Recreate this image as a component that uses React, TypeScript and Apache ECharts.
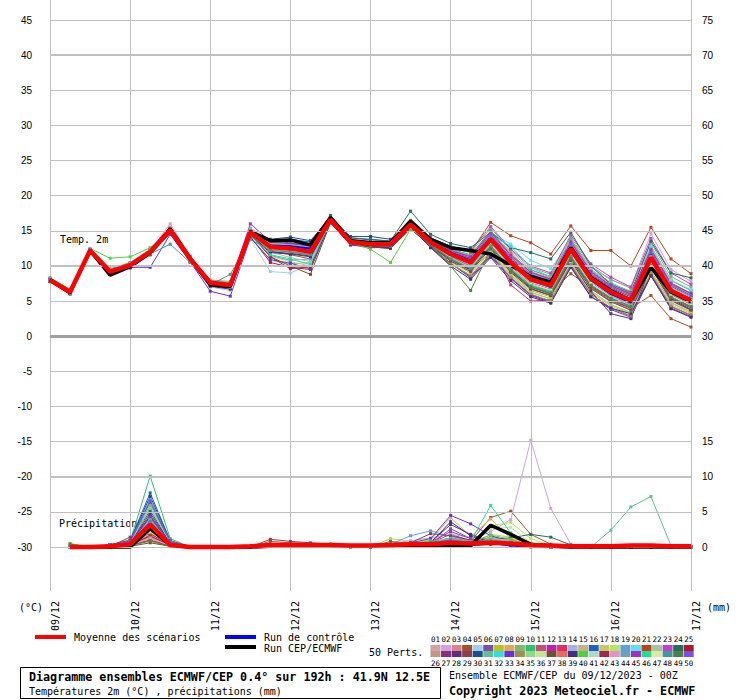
import React, { useEffect, useRef } from "react";
import * as echarts from "echarts";

// ---------- DATA ----------
const dayLabels = ["09/12", "10/12", "11/12", "12/12", "13/12", "14/12", "15/12", "16/12", "17/12"];
const leftTicks = [45, 40, 35, 30, 25, 20, 15, 10, 5, 0, -5, -10, -15, -20, -25, -30];
const rightTicks = [75, 70, 65, 60, 55, 50, 45, 40, 35, 30, 15, 10, 5, 0];

// temperature (°C), 33 steps of 6h starting 09/12 00Z
const meanTemp = [8.0,6.3,12.2,9.2,10.1,12.0,15.1,11.0,7.6,7.3,14.8,12.7,12.5,12.0,16.6,13.4,13.1,13.1,15.9,13.4,11.7,10.5,13.8,10.5,8.1,7.2,12.4,8.2,6.3,5.1,11.2,6.5,5.1];
const cepTemp = [8.0,6.2,12.2,8.7,9.9,11.9,15.3,11.1,7.3,7.1,14.9,13.6,13.7,13.0,16.9,13.6,13.3,13.3,16.4,13.8,12.6,12.2,11.7,10.1,8.5,7.7,12.6,8.4,6.5,5.1,9.8,6.3,4.9];
const ctrlTemp = [8.0,6.3,12.2,9.1,10.0,11.9,15.0,11.0,7.5,7.2,14.7,12.9,12.8,12.5,16.7,13.5,13.2,13.2,16.0,13.5,11.9,10.8,14.0,10.6,8.0,7.0,12.3,8.0,6.0,4.8,11.0,6.3,5.0];

// precipitation (mm), 32 steps (06Z 09/12 .. 00Z 17/12)
const meanPrecip = [0,0,0.1,0.4,3.2,0.3,0,0,0,0.1,0.3,0.3,0.3,0.3,0.2,0.2,0.3,0.4,0.4,0.6,0.5,0.6,0.5,0.3,0.2,0.1,0.1,0.1,0.2,0.2,0.1,0.1];
const cepPrecip = [0,0,0,0,2.6,0.3,0,0,0,0,0.1,0.2,0.2,0.2,0.1,0.1,0.1,0.2,0.3,0.1,0.2,3.1,1.8,0.4,0.1,0,0,0,0,0,0,0];
const ctrlPrecip = [0,0,0.1,0.4,3.0,0.3,0,0,0,0,0.2,0.3,0.2,0.2,0.1,0.1,0.1,0.3,0.3,0.5,0.3,0.6,0.2,0,0,0,0,0,0,0,0,0];

const memberColors = [
  "#d4a0a8","#d0a0e0","#e08088","#a0522d","#a0d0e8","#7850b0","#c0c020","#d8b050","#80b870","#30c070",
  "#c05078","#c020b0","#e03060","#a8b0e0","#c8b088","#2060c0","#c8c868","#b0e860","#60a0d8","#60e0f0",
  "#c04020","#a0c8a0","#c040d0","#207060","#b01828","#c09a80","#8a3078","#5a2d80","#8b4050","#1a5090",
  "#60c090","#30e0e0","#6a30d8","#a09050","#90d890","#c0e890","#705030","#e86860","#403080","#50d040",
  "#b0d8c8","#a02848","#e890c8","#70a0b8","#a030c0","#20e090","#e0e8a0","#409898","#508040","#7850e8"
];

const memberTemps = [
  [8.1,6.4,12.3,9.4,10.3,12.2,15.4,11.2,7.9,7.5,15.0,13.1,12.8,12.3,16.9,13.6,13.3,13.2,16.2,13.8,12.3,11.3,14.8,11.6,9.2,8.3,13.6,9.4,7.5,6.4,12.6,7.9,6.5],
  [7.9,6.2,12.2,9.0,10.0,11.8,15.0,10.9,7.5,7.1,14.6,12.3,12.0,11.5,16.5,13.5,13.2,13.0,16.0,13.6,12.2,11.5,15.0,12.0,9.5,8.4,13.8,9.8,8.0,7.0,14.6,9.5,7.8],
  [8.2,6.5,12.4,9.3,10.2,12.1,15.2,11.1,7.7,7.4,14.9,12.9,12.8,12.4,16.7,13.3,13.0,13.1,15.8,13.0,11.0,9.5,12.8,9.4,7.0,6.0,11.1,6.9,5.0,3.8,9.8,5.1,3.8],
  [8.0,6.3,12.1,9.1,10.0,11.9,14.9,10.8,7.4,7.0,14.5,12.1,11.6,11.0,16.3,13.2,12.9,12.8,15.5,13.0,11.2,10.0,13.0,9.8,7.4,6.4,8.9,7.0,5.0,4.0,5.8,2.5,1.3],
  [7.8,6.1,12.0,8.9,9.8,11.6,14.6,10.5,7.0,6.5,13.9,9.2,9.0,10.2,16.2,13.0,12.5,12.8,15.6,13.3,12.0,11.0,14.3,11.0,8.6,7.6,13.0,8.8,6.9,5.7,12.6,7.2,5.7],
  [8.1,6.3,12.3,9.5,10.4,12.3,15.3,11.3,7.8,7.6,15.2,13.0,12.9,12.5,16.8,13.7,13.4,13.3,16.3,13.8,12.2,11.0,14.4,11.0,8.7,7.8,13.0,8.8,6.9,5.7,11.9,7.1,5.7],
  [7.7,6.0,12.0,9.0,10.0,11.8,14.8,10.7,7.3,6.9,14.4,12.2,12.0,11.6,16.3,13.1,12.8,12.6,15.4,12.8,10.6,9.0,12.2,8.9,6.5,5.6,10.6,6.5,4.5,3.4,9.3,4.8,3.5],
  [8.0,6.4,12.2,9.3,10.2,12.1,15.0,11.0,7.6,7.3,15.0,13.0,12.6,12.2,16.7,13.5,13.2,13.0,15.8,13.2,11.2,9.8,13.2,9.0,7.2,6.3,11.4,7.2,5.4,4.2,10.2,5.6,4.2],
  [8.3,6.6,12.4,9.6,10.5,12.4,15.5,11.4,8.0,7.8,15.4,13.4,13.2,12.8,17.0,13.8,13.5,13.4,16.5,14.0,12.6,11.9,15.4,12.2,9.8,8.8,14.1,10.0,8.1,6.8,13.3,8.5,7.0],
  [8.2,6.4,12.3,9.4,10.3,12.2,15.2,11.1,7.8,7.5,15.1,13.3,13.1,12.8,16.9,13.6,13.2,13.3,16.0,13.6,12.4,11.6,15.0,11.6,9.4,8.5,13.8,9.5,7.6,6.3,12.8,8.0,6.5],
  [7.9,6.2,12.1,9.1,10.0,11.9,15.1,10.9,7.5,7.2,14.7,12.5,12.2,11.8,16.4,13.3,13.0,12.9,15.7,13.1,11.2,9.8,13.0,9.7,7.3,6.4,11.4,7.4,5.4,4.2,10.2,5.6,4.3],
  [8.0,6.3,12.2,9.2,10.1,12.0,15.0,11.0,7.6,7.2,14.8,12.6,12.3,11.9,16.6,13.4,13.0,13.0,15.9,13.4,11.8,10.6,14.0,10.6,8.2,7.3,12.6,8.3,6.4,5.2,11.4,6.6,5.2],
  [8.1,6.4,12.2,9.3,10.2,12.0,15.1,11.0,7.7,7.4,14.9,12.8,12.6,12.1,16.5,13.3,13.0,13.0,15.6,13.1,11.3,9.9,13.0,7.3,5.0,5.2,11.0,7.2,5.6,4.5,10.5,5.9,4.5],
  [7.8,6.1,12.0,8.9,9.9,11.7,14.9,10.7,7.3,6.9,14.2,10.8,10.3,10.5,16.4,13.2,12.8,12.7,15.6,13.0,10.8,9.3,12.6,9.2,6.8,5.8,11.0,6.8,4.9,3.7,9.0,5.0,3.7],
  [8.0,6.2,12.1,9.0,10.0,11.9,15.0,10.9,7.5,7.1,14.7,12.4,12.1,11.7,16.5,13.4,13.1,13.0,15.8,13.3,11.5,10.3,13.6,10.3,7.9,7.0,12.3,8.1,6.2,5.0,11.0,6.4,5.0],
  [8.2,6.5,12.3,9.4,10.3,12.2,15.3,11.2,7.8,7.5,15.0,13.6,13.8,13.4,16.8,14.0,13.8,13.5,16.2,13.6,12.2,11.2,14.6,11.3,8.9,8.0,13.3,9.1,7.1,5.9,12.2,7.4,6.0],
  [7.9,6.2,12.2,9.1,10.0,11.9,14.9,10.8,7.4,7.1,14.4,11.4,10.6,10.0,16.4,13.2,12.8,12.5,15.5,12.8,10.4,8.7,11.8,8.6,6.2,5.3,10.4,6.2,4.3,3.2,9.0,4.5,3.2],
  [8.1,6.4,12.3,9.4,10.3,12.1,15.2,11.2,7.8,7.5,15.0,13.0,12.9,12.4,16.8,13.5,13.2,13.1,16.0,13.5,12.1,11.1,14.5,11.3,8.7,7.7,13.1,8.9,7.0,5.7,12.0,7.2,5.8],
  [7.9,6.2,12.1,9.0,9.9,11.8,14.9,10.8,7.4,7.0,14.4,11.5,10.8,11.0,16.4,13.3,13.0,12.9,15.7,13.3,11.4,10.0,13.2,9.9,7.6,6.7,11.8,7.7,5.7,4.6,10.6,6.0,4.6],
  [8.0,6.3,12.2,9.3,10.2,12.1,15.2,11.1,7.7,7.4,15.1,13.1,12.8,12.4,16.8,13.6,13.3,13.2,16.2,13.7,12.3,11.4,14.8,13.1,10.8,9.6,13.6,9.5,7.6,6.2,12.8,8.0,6.6],
  [8.2,6.5,12.3,9.5,10.4,12.3,15.3,11.2,7.8,7.5,15.0,13.1,12.9,12.4,16.9,13.7,13.4,13.3,16.4,14.0,12.8,12.0,16.2,14.3,13.3,11.7,15.7,12.2,12.2,10.0,15.5,11.0,8.9],
  [7.9,6.2,12.1,9.1,10.0,11.9,15.0,10.9,7.5,7.2,14.6,12.0,11.2,10.6,16.5,13.3,13.0,12.9,15.8,13.0,10.8,9.0,12.0,8.7,6.3,5.3,10.5,6.4,4.5,3.3,8.6,4.7,3.4],
  [8.1,6.4,12.2,9.3,10.2,12.1,15.2,11.1,7.7,7.4,15.0,13.2,13.0,12.6,16.8,13.6,13.3,13.2,16.2,14.0,12.8,12.2,15.6,12.4,10.0,9.0,14.4,10.3,8.4,7.0,13.9,9.0,7.4],
  [8.0,6.3,12.3,9.3,10.3,12.2,15.3,11.3,7.9,7.6,15.2,13.3,13.2,12.9,17.2,14.0,13.7,13.6,17.8,14.5,13.2,12.6,14.8,12.6,11.9,11.0,14.8,10.0,7.4,6.2,13.5,9.0,8.3],
  [7.9,6.2,12.1,9.0,9.9,11.8,14.8,10.8,7.3,7.0,14.2,10.5,9.8,9.5,16.3,13.2,12.9,12.7,15.5,12.6,10.3,8.5,11.6,8.3,5.9,5.0,10.1,6.0,4.0,2.9,8.8,4.2,3.0],
  [8.0,6.3,12.2,9.2,10.1,12.0,15.1,11.0,7.6,7.3,14.8,12.6,12.4,12.0,16.6,13.4,13.1,13.0,15.9,13.4,11.7,10.5,13.9,10.6,8.2,7.2,12.4,8.2,6.3,5.1,11.1,6.5,5.0],
  [8.1,6.4,12.3,9.3,10.2,12.1,15.2,11.1,7.7,7.4,14.9,12.9,12.7,12.3,16.7,13.5,13.2,13.2,16.0,13.6,12.1,11.0,14.3,11.0,8.6,7.7,13.0,8.8,6.8,5.6,11.8,7.1,5.6],
  [7.8,6.0,11.9,8.8,9.7,11.6,14.7,10.6,7.1,6.7,14.3,11.9,11.7,11.3,16.2,13.0,12.7,12.5,15.3,12.8,10.9,9.4,12.8,9.4,6.8,5.8,10.8,6.4,3.2,2.5,10.0,5.3,3.8],
  [8.0,6.3,12.2,9.2,10.1,12.0,15.1,11.0,7.6,7.3,14.8,12.7,12.5,12.0,16.6,13.4,13.1,13.1,15.9,13.4,11.7,10.5,13.8,10.5,8.1,7.1,12.3,8.1,6.2,5.0,11.0,6.4,5.0],
  [8.1,6.4,12.3,9.4,10.3,12.2,15.2,11.2,7.8,7.4,15.0,13.8,14.1,13.6,16.8,14.2,14.2,13.8,16.1,13.5,11.9,10.7,13.9,10.6,8.1,7.2,12.5,8.3,6.4,5.1,11.4,6.6,5.2],
  [7.9,6.2,12.1,9.1,10.0,11.9,14.9,10.8,7.5,7.1,14.6,12.3,12.1,11.7,16.4,13.2,12.9,12.8,15.6,13.5,12.2,11.2,14.7,11.4,9.0,8.1,13.3,9.1,7.1,5.9,12.1,7.4,6.0],
  [8.2,6.5,12.4,9.5,10.4,12.3,15.3,11.2,7.8,7.5,15.1,13.2,13.0,12.6,16.8,13.6,13.3,13.3,16.2,13.7,12.1,10.9,14.4,12.8,9.8,8.4,13.0,8.7,6.7,5.4,12.0,7.0,5.6],
  [7.8,6.1,12.0,9.0,9.8,9.8,14.5,10.6,6.4,5.7,14.0,10.9,10.4,9.6,16.2,13.0,12.7,12.6,15.4,12.7,10.4,8.3,11.4,8.2,5.8,4.8,9.9,5.7,3.8,2.7,8.6,4.0,2.8],
  [8.0,6.2,12.1,9.1,10.0,11.9,14.9,10.9,7.5,7.1,14.6,12.4,12.0,11.6,16.4,13.2,12.8,12.6,15.4,12.8,10.3,8.6,11.7,8.4,6.0,5.0,10.2,6.0,4.0,2.9,8.9,4.3,3.0],
  [8.1,6.4,12.2,9.3,10.2,12.1,15.1,11.0,7.7,7.4,14.9,12.8,12.6,12.2,16.7,13.5,13.2,13.1,16.0,13.5,11.8,10.6,13.9,10.6,8.2,7.3,12.5,8.3,6.4,5.1,11.3,6.6,5.2],
  [7.9,6.2,12.1,9.0,9.9,11.8,14.9,10.8,7.4,7.0,14.6,12.4,12.2,11.8,16.5,13.3,13.0,12.9,15.8,13.2,11.2,9.8,13.1,9.8,7.4,6.5,11.7,7.5,5.6,4.4,10.4,5.8,4.4],
  [8.0,6.3,12.2,9.2,10.1,11.6,14.7,10.9,7.5,7.2,14.7,11.3,10.0,8.8,16.1,13.1,12.7,12.5,15.3,12.9,10.7,9.2,12.5,9.1,6.7,5.8,11.0,6.8,4.9,3.7,9.7,5.1,3.7],
  [8.1,6.4,12.3,9.4,10.3,12.2,15.2,11.1,7.8,7.5,15.0,13.0,12.8,12.4,16.8,13.6,13.3,13.2,16.1,13.8,12.3,11.4,14.8,11.8,9.1,8.2,13.6,9.3,7.3,6.1,12.4,7.6,6.1],
  [7.8,6.1,12.0,8.9,9.8,11.7,14.8,10.7,7.2,6.8,14.4,12.0,11.8,11.4,16.3,13.1,12.8,12.6,15.5,12.6,10.0,8.1,11.2,7.9,5.6,4.7,9.8,5.6,4.0,3.2,8.6,3.9,2.7],
  [8.3,6.7,12.5,11.1,11.3,12.6,15.0,11.2,7.9,7.6,15.0,12.8,12.6,12.1,16.6,13.3,12.4,10.5,15.2,13.4,11.6,10.3,13.6,10.3,7.9,7.0,12.1,8.0,6.2,5.0,11.0,6.4,5.0],
  [8.0,6.3,12.2,9.2,10.1,12.0,15.1,11.0,7.6,7.3,14.8,12.6,12.3,11.9,16.6,13.4,13.1,13.0,15.9,13.4,11.7,10.5,13.8,10.5,8.1,7.2,12.3,8.1,6.2,5.0,11.1,6.5,5.1],
  [7.9,6.2,12.1,9.1,10.0,11.9,15.0,10.9,7.5,7.2,14.5,11.3,9.6,9.9,16.5,13.3,13.0,12.9,15.7,13.0,11.0,9.5,12.8,9.4,7.0,6.1,11.3,7.1,5.2,4.0,10.0,5.4,4.0],
  [8.2,6.5,12.4,9.4,10.3,12.2,16.0,11.3,7.9,7.6,15.2,13.2,13.0,12.6,16.9,13.6,13.3,13.2,16.1,13.6,12.1,11.2,14.6,11.3,8.9,7.9,13.2,9.0,7.0,5.8,12.1,7.3,5.9],
  [8.0,6.3,12.2,9.2,10.1,12.0,15.1,11.0,7.6,7.3,14.8,12.6,12.4,12.0,16.6,13.4,13.1,13.0,15.9,13.4,11.7,10.4,13.7,10.4,8.0,7.1,12.3,8.1,6.2,5.0,11.0,6.4,5.0],
  [8.1,6.4,12.3,9.3,10.2,12.1,15.2,11.1,7.7,7.4,16.0,13.5,13.3,12.8,16.9,13.6,13.3,13.2,16.1,13.5,12.2,11.3,14.8,11.5,9.1,8.1,13.4,9.2,7.2,6.0,12.3,7.5,6.1],
  [7.9,6.2,12.1,9.0,9.9,11.8,14.9,10.8,7.4,7.0,14.4,11.6,11.0,10.2,16.4,13.3,13.0,12.9,15.7,13.1,11.1,9.7,12.9,9.6,7.2,6.3,11.5,7.3,5.4,4.2,10.2,5.6,4.2],
  [8.0,6.3,12.2,9.3,10.2,12.1,15.1,11.0,7.7,7.3,14.9,12.7,12.5,12.1,16.6,13.4,13.1,13.1,15.9,13.4,11.8,10.6,13.9,10.6,8.2,7.2,12.4,8.2,6.3,5.1,11.2,6.5,5.1],
  [7.9,6.1,12.0,9.0,9.9,11.7,13.1,10.5,7.3,8.8,13.8,12.2,12.0,11.6,16.4,13.2,12.9,12.8,15.6,13.0,11.0,9.6,12.8,9.5,7.1,6.2,11.3,7.2,5.3,4.1,10.0,5.5,4.1],
  [8.0,6.3,12.2,9.2,10.1,12.0,15.1,11.0,7.6,7.3,14.8,12.6,12.4,12.0,16.5,13.3,13.0,12.9,15.6,13.1,10.0,6.5,12.4,9.2,7.0,6.0,11.0,7.2,5.4,4.3,10.0,5.5,4.2],
  [8.1,6.4,12.3,9.3,10.2,12.1,15.2,11.1,7.7,7.4,15.0,12.9,12.7,12.3,16.7,13.5,13.2,13.1,16.0,13.5,12.1,11.1,14.5,11.2,8.8,7.8,13.1,8.9,7.0,5.8,12.0,7.3,5.8]
];

const memberPrecips = [
  [0,0,0.2,0.6,3.0,0.5,0,0,0,0,0.3,0.4,0.3,0.2,0.1,0.1,0.2,0.5,0.6,0.8,0.4,0.9,0.7,0.2,0,0,0,0,0,0.1,0,0],
  [0,0,0,0.3,2.4,0.2,0,0,0,0,0.2,0.3,0.2,0.3,0.1,0,0.1,0.3,0.4,0.6,0.9,2.2,3.9,15.2,5.5,0.4,0,0,0,0,0,0],
  [0,0,0.1,0.2,1.8,0.3,0,0,0,0,0.1,0.2,0.2,0.1,0,0,0.2,0.4,0.2,0.5,0.3,0.8,0.5,0.1,0,0,0,0,0,0,0,0],
  [0,0,0.3,1.0,3.6,0.6,0,0,0,0,0.8,0.6,0.5,0.4,0.2,0.1,0.2,0.4,0.7,1.2,0.8,4.2,5.1,1.8,0.4,0,0,0,0,0,0,0],
  [0,0,0,0.3,2.2,0.2,0,0,0,0,0.2,0.3,0.2,0.1,0,0,0.3,0.8,0.5,1.0,0.6,0.5,0.4,0.1,0,0,0,0,0,0,0,0],
  [0,0,0.2,0.5,4.5,0.6,0,0,0,0,0.1,0.3,0.3,0.2,0.1,0,0.1,0.2,0.3,2.6,1.2,0.6,0.4,0,0,0,0,0,0,0,0,0],
  [0,0,0.1,0.4,2.8,0.4,0,0,0,0,0.2,0.2,0.1,0.2,0.1,0,0.4,0.6,0.8,0.9,0.6,1.2,0.9,0.3,0,0,0,0,0,0,0,0],
  [0,0,0.2,0.5,3.2,0.3,0,0,0,0,0.2,0.4,0.3,0.3,0.1,0.1,0.3,0.5,1.0,4.2,1.5,4.0,1.2,0.2,0,0,0,0,0,0,0,0],
  [0,0,0.2,0.7,6.0,0.8,0,0,0,0,0.3,0.3,0.3,0.2,0.1,0,0.2,0.3,0.5,0.6,0.4,1.5,1.0,0.2,0,0,0,0,0,0,0,0],
  [0,0,0.3,0.8,10.1,1.2,0,0,0,0,0.2,0.4,0.4,0.3,0.2,0.1,0.1,0.3,0.4,0.7,0.5,1.4,0.8,0.3,0,0,0,0,0,0,0,0],
  [0,0,0.1,0.4,2.0,0.2,0,0,0,0,0.1,0.2,0.2,0.1,0,0,0.2,0.3,0.4,0.5,0.3,0.6,0.5,0.1,0,0,0,0,0,0,0,0],
  [0,0,0.2,0.5,3.4,0.4,0,0,0,0,0.2,0.3,0.2,0.2,0.1,0,0.3,0.5,0.6,1.8,0.9,0.7,0.4,0.2,0,0,0,0,0,0,0,0],
  [0,0,0.1,0.3,1.5,0.2,0,0,0,0,0.1,0.2,0.1,0.1,0,0,0.1,0.2,0.3,0.4,0.2,0.5,0.3,0.1,0,0,0,0,0,0,0,0],
  [0,0,0.2,0.6,4.0,0.5,0,0,0,0,0.3,0.5,0.3,0.3,0.1,0.1,0.5,0.9,1.3,1.8,1.4,0.8,0.6,0.2,0,0,0,0,0,0,0,0],
  [0,0,0.1,0.2,1.2,0.1,0,0,0,0,0.1,0.2,0.1,0.1,0,0,0.2,0.4,0.3,0.8,0.4,1.0,0.6,0.1,0,0,0,0,0,0,0,0],
  [0,0,0.3,0.9,7.7,0.9,0,0,0,0,0.2,0.3,0.3,0.2,0.1,0.1,0.2,0.3,0.5,0.9,0.7,0.6,0.3,0.1,0,0,0,0,0,0,0,0],
  [0,0,0.1,0.4,2.6,0.3,0,0,0,0,0.2,0.3,0.2,0.2,0.1,0,1.2,0.8,0.6,0.7,0.5,1.8,1.4,0.3,0,0,0,0,0,0,0,0],
  [0,0,0.2,0.7,5.0,0.6,0,0,0,0,0.2,0.4,0.3,0.2,0.1,0,0.3,0.6,0.9,1.1,0.8,3.0,3.5,1.2,0.2,0,0,0,0,0,0,0],
  [0,0,0.3,0.8,6.8,0.8,0,0,0,0,0.3,0.3,0.2,0.2,0.1,0.1,0.4,1.6,2.3,1.5,0.9,0.6,0.4,0.1,0,0,0,0,0,0,0,0],
  [0,0,0.2,0.5,3.8,0.5,0,0,0,0,0.2,0.3,0.3,0.2,0.1,0,0.2,0.4,0.6,0.9,0.6,0.8,0.5,0.2,0,0,0,0,0,0,0,0],
  [0,0,0.2,0.4,2.5,0.3,0,0,0,0,0.3,0.2,0.2,0.3,0.2,0.1,0.2,0.3,0.4,0.5,0.4,0.7,0.9,0.4,0.1,0,0,0,0,0,0,0],
  [0,0,0.1,0.5,2.9,0.4,0,0,0,0,0.2,0.3,0.2,0.2,0.1,0,0.2,0.4,0.5,0.8,0.5,0.9,0.6,0.2,0,0,0,0,0,0,0,0],
  [0,0,0.2,0.6,4.2,0.5,0,0,0,0,0.2,0.3,0.3,0.2,0.1,0.1,0.3,0.5,0.7,1.3,0.8,0.6,0.4,0.1,0,0,0,0,0,0,0,0],
  [0,0,0.3,0.7,5.2,0.6,0,0,0,0,0.3,0.3,0.3,0.2,0.1,0.1,0.2,0.4,0.6,0.9,0.7,1.1,1.3,1.8,1.4,0.3,0,0,0,0,0,0],
  [0,0,0,0.2,1.0,0.1,0,0,0,0,0.1,0.1,0.1,0.1,0,0,0.1,0.2,0.2,0.3,0.2,0.4,0.3,0.1,0,0,0,0,0,0,0,0],
  [0,0,0,0.2,0.8,0.1,0,0,0,0,0.1,0.2,0.1,0.1,0,0,0.1,0.2,0.3,0.4,0.2,0.5,0.3,0,0,0,0,0,0,0,0,0],
  [0,0,0.2,0.5,3.5,0.4,0,0,0,0,0.2,0.3,0.2,0.2,0.1,0,0.2,0.5,0.6,1.0,0.6,0.7,0.5,0.2,0,0,0,0,0,0,0,0],
  [0,0,0.2,0.6,4.8,0.6,0,0,0,0,0.2,0.3,0.3,0.2,0.1,0,0.2,0.4,0.7,3.2,1.8,0.8,0.5,0.1,0,0,0,0,0,0,0,0],
  [0,0,0.1,1.4,1.9,0.3,0,0,0,0,1.1,0.8,0.6,0.4,0.2,0.1,0.3,0.6,1.9,1.6,1.0,0.6,0.3,0.1,0,0,0,0,0,0,0,0],
  [0,0,0.3,0.9,7.2,0.9,0,0,0,0,0.2,0.3,0.2,0.2,0.1,0,0.2,0.4,0.6,1.0,0.7,0.5,0.3,0.1,0,0,0,0,0,0,0,0],
  [0,0,0.2,0.6,5.6,0.7,0,0,0,0,0.2,0.3,0.3,0.2,0.1,0,0.2,0.3,0.5,0.7,0.5,1.0,0.7,0.3,0.2,0,0,2.4,5.7,7.2,0.2,0],
  [0,0,0.2,0.5,3.3,0.4,0,0,0,0,0.2,0.3,0.2,0.2,0.1,0,0.2,0.4,0.6,0.8,0.5,0.7,0.4,0.1,0,0,0,0,0,0,0,0],
  [0,0,0.2,0.6,4.4,0.5,0,0,0,0,0.3,0.4,0.3,0.2,0.1,0.1,0.3,0.6,1.2,4.5,3.3,1.6,0.8,0.2,0,0,0,0,0,0,0,0],
  [0,0,0.1,0.3,1.4,0.2,0,0,0,0,0.1,0.2,0.1,0.1,0,0,0.2,0.3,0.4,0.6,0.4,0.8,0.6,0.2,0,0,0,0,0,0,0,0],
  [0,0,0.2,0.7,5.5,0.7,0,0,0,0,0.2,0.3,0.3,0.2,0.1,0,0.2,0.4,0.5,0.8,0.5,1.3,0.9,0.3,0,0,0,0,0,0,0,0],
  [0,0,0.1,0.4,2.1,0.3,0,0,0,0,0.2,0.2,0.2,0.1,0,0,0.3,0.5,0.8,1.2,0.7,2.6,2.8,0.6,0,0,0,0,0,0,0,0],
  [0,0,0,0.1,0.6,0.1,0,0,0,0,0.1,0.1,0.1,0.1,0,0,0.1,0.2,0.3,0.4,0.2,0.4,0.3,0.1,0,0,0,0,0,0,0,0],
  [0,0,0.1,0.3,1.7,0.2,0,0,0,0,0.2,0.2,0.2,0.1,0.1,0,0.2,0.3,0.5,0.6,0.4,0.9,0.6,0.2,0,0,0,0,0,0,0,0],
  [0,0,0.3,0.8,6.4,0.8,0,0,0,0,0.2,0.3,0.3,0.2,0.1,0,0.2,0.4,0.6,3.6,1.6,0.7,0.4,0.1,0,0,0,0,0,0,0,0],
  [0.5,0,0.1,0.4,2.7,0.3,0,0,0,0,0.2,0.3,0.2,0.2,0.1,0,0.3,0.5,0.9,1.0,0.6,1.7,1.1,0.2,0,0,0,0,0,0,0,0],
  [0,0,0.2,0.5,3.1,0.4,0,0,0,0,0.2,0.3,0.2,0.2,0.1,0,0.2,0.4,0.6,0.8,0.5,0.8,0.5,0.1,0,0,0,0,0,0,0,0],
  [0,0,0.1,0.3,1.6,0.2,0,0,0,0,0.1,0.2,0.1,0.1,0,0,0.2,0.3,0.4,0.5,0.3,0.6,0.4,0.1,0,0,0,0,0,0,0,0],
  [0,0,0.1,0.3,1.3,0.2,0,0,0,0,0.1,0.2,0.1,0.1,0,0,0.2,0.3,0.4,0.7,0.4,1.1,0.8,0.2,0,0,0,0,0,0,0,0],
  [0,0,0.3,0.8,6.5,0.8,0,0,0,0,0.2,0.3,0.3,0.2,0.1,0,0.2,0.4,0.6,0.9,0.6,0.7,0.4,0.1,0,0,0,0,0,0,0,0],
  [0,0,0.2,0.6,4.2,0.5,0,0,0,0,0.2,0.3,0.3,0.2,0.1,0,0.3,0.5,0.7,2.2,1.2,0.6,0.3,0.1,0,0,0,0,0,0,0,0],
  [0,0,0.2,0.5,3.9,0.5,0,0,0,0,0.2,0.3,0.2,0.2,0.1,0,0.2,0.4,0.7,1.2,0.8,5.9,2.0,0.5,0,0,0,0,0,0,0,0],
  [0,0,0.1,0.4,2.3,0.3,0,0,0,0,0.1,0.2,0.2,0.1,0,0,0.2,0.3,0.5,0.6,0.4,0.8,0.5,0.1,0,0,0,0,0,0,0,0],
  [0,0,0.2,0.5,3.7,0.5,0,0,0,0,0.2,0.3,0.2,0.2,0.1,0,0.2,0.4,0.6,0.9,0.6,1.0,0.7,0.3,0.1,0,0,0,0,0,0,0],
  [0.4,0,0,0.2,0.9,0.1,0,0,0,0,0.1,0.1,0.1,0.1,0,0,0.8,0.5,0.4,0.5,0.3,0.6,0.4,0.1,0,0,0,0,0,0,0,0],
  [0,0,0.3,0.8,6.5,0.8,0,0,0,0,0.2,0.3,0.3,0.2,0.1,0,0.2,0.4,0.6,1.0,0.7,0.6,0.3,0.1,0,0,0,0,0,0,0,0]
];

const thinGrid = [45, 35, 30, 25, 20, 15, 5, -5, -10, -15, -25, -30];
const thickGrid = [40, 10, -20];

// axis extents (left: °C scale, right: shifted by 30)
const Y_MIN = -36.26;
const Y_MAX = 47.85;

// ---------- COMPONENT ----------
const MONO = '"DejaVu Sans Mono", monospace';

function tempData(v: number[]) {
  return v.map((t, i) => [i, t]);
}
function precipData(v: number[]) {
  return v.map((p, i) => [i + 1, p]);
}

export default function App() {
  const ref = useRef<HTMLDivElement>(null);

  useEffect(() => {
    if (!ref.current) return;
    const chart = echarts.init(ref.current, null, { renderer: "svg" });

    const series: any[] = [];
    series.push({
      type: "line",
      data: [],
      yAxisIndex: 0,
      silent: true,
      z: 1,
      markLine: {
        silent: true,
        symbol: ["none", "none"],
        label: { show: false },
        animation: false,
        data: [
          ...thinGrid.map((v) => ({ yAxis: v, lineStyle: { color: "#c0c0c0", width: 1, type: "solid" } })),
          ...thickGrid.map((v) => ({ yAxis: v, lineStyle: { color: "#c0c0c0", width: 2, type: "solid" } })),
          { yAxis: 0, lineStyle: { color: "#a0a0a0", width: 3, type: "solid" } },
        ],
      },
    });

    memberTemps.forEach((arr, k) => {
      series.push({
        type: "line",
        data: tempData(arr),
        yAxisIndex: 0,
        silent: true,
        z: 2,
        symbol: "rect",
        symbolSize: 3,
        lineStyle: { width: 1, color: memberColors[k] },
        itemStyle: { color: memberColors[k] },
      });
    });
    memberPrecips.forEach((arr, k) => {
      series.push({
        type: "line",
        data: precipData(arr),
        yAxisIndex: 1,
        silent: true,
        z: 2,
        symbol: "rect",
        symbolSize: 3,
        lineStyle: { width: 1, color: memberColors[k] },
        itemStyle: { color: memberColors[k] },
      });
    });

    const thick = (data: any, axis: number, color: string, width: number, z: number) => ({
      type: "line",
      data,
      yAxisIndex: axis,
      silent: true,
      z,
      symbol: "none",
      lineStyle: { width, color },
    });
    series.push(thick(tempData(ctrlTemp), 0, "#0000ff", 2, 3));
    series.push(thick(precipData(ctrlPrecip), 1, "#0000ff", 2, 3));
    series.push(thick(tempData(cepTemp), 0, "#000000", 3.5, 4));
    series.push(thick(precipData(cepPrecip), 1, "#000000", 3.5, 4));
    series.push(thick(tempData(meanTemp), 0, "#ff0000", 4.5, 5));
    series.push(thick(precipData(meanPrecip), 1, "#ff0000", 4.5, 5));

    const txt = (text: string, x: number, y: number, extra: any = {}) => ({
      type: "text",
      x,
      y,
      silent: true,
      style: {
        text,
        fill: "#000",
        fontFamily: MONO,
        fontSize: 10,
        verticalAlign: "middle",
        ...extra,
      },
    });

    const graphics: any[] = [
      txt("Temp. 2m", 60, 239),
      txt("Précipitations", 59, 523),
      txt("(°C)", 19, 607),
      txt("(mm)", 707, 607),
      { type: "rect", shape: { x: 35, y: 635, width: 31, height: 4 }, style: { fill: "#ff0000" }, silent: true },
      txt("Moyenne des scénarios", 74, 637),
      { type: "rect", shape: { x: 225, y: 635, width: 31, height: 4 }, style: { fill: "#0000ff" }, silent: true },
      txt("Run de contrôle", 264, 637),
      { type: "rect", shape: { x: 225, y: 645, width: 31, height: 4 }, style: { fill: "#000000" }, silent: true },
      txt("Run CEP/ECMWF", 264, 648),
      txt("50 Perts.", 369, 652),
      { type: "rect", shape: { x: 20.5, y: 667.5, width: 420, height: 31 }, style: { fill: "#fff", stroke: "#000", lineWidth: 1 }, silent: true },
      txt("Diagramme ensembles ECMWF/CEP 0.4° sur 192h : 41.9N 12.5E", 29, 677, { fontWeight: "bold", fontSize: 11.7 }),
      txt("Températures 2m (°C) , précipitations (mm)", 29, 691),
      txt("Ensemble ECMWF/CEP du 09/12/2023 - 00Z", 449, 675),
      txt("Copyright 2023 Meteociel.fr - ECMWF", 449, 691, { fontWeight: "bold", fontSize: 11.7 }),
    ];
    for (let i = 0; i < 25; i++) {
      const x = 430.5 + i * 10.55;
      graphics.push({ type: "rect", shape: { x, y: 645, width: 10, height: 6 }, style: { fill: memberColors[i] }, silent: true });
      graphics.push({ type: "rect", shape: { x, y: 651, width: 10, height: 6 }, style: { fill: memberColors[25 + i] }, silent: true });
      graphics.push(txt(String(i + 1).padStart(2, "0"), x + 5, 639.5, { fontSize: 7.5, textAlign: "center" }));
      graphics.push(txt(String(i + 26), x + 5, 663, { fontSize: 7.5, textAlign: "center" }));
    }

    const option: any = {
      animation: false,
      backgroundColor: "#ffffff",
      grid: { left: 50, right: 49, top: 0, bottom: 109, containLabel: false },
      xAxis: {
        type: "value",
        min: 0,
        max: 32,
        interval: 4,
        axisLine: { show: true, lineStyle: { color: "#c0c0c0", width: 1 } },
        axisTick: { show: true, length: 4, lineStyle: { color: "#c0c0c0" } },
        splitLine: { show: true, lineStyle: { color: "#c0c0c0", width: 1 } },
        axisLabel: {
          rotate: 90,
          margin: 10,
          verticalAlign: "top",
          fontFamily: MONO,
          fontSize: 10,
          color: "#000",
          formatter: (v: number) => dayLabels[Math.round(v / 4)] ?? "",
        },
      },
      yAxis: [
        {
          type: "value",
          position: "left",
          min: Y_MIN,
          max: Y_MAX,
          axisLine: { show: false },
          axisTick: { show: false },
          splitLine: { show: false },
          axisLabel: {
            customValues: leftTicks,
            margin: 18,
            fontFamily: "Liberation Sans",
            fontSize: 10,
            color: "#000",
          },
        },
        {
          type: "value",
          position: "right",
          min: Y_MIN + 30,
          max: Y_MAX + 30,
          axisLine: { show: false },
          axisTick: { show: false },
          splitLine: { show: false },
          axisLabel: {
            customValues: rightTicks,
            margin: 11,
            fontFamily: "Liberation Sans",
            fontSize: 10,
            color: "#000",
          },
        },
      ],
      series,
      graphic: { elements: graphics },
    };

    chart.setOption(option);
    return () => chart.dispose();
  }, []);

  return (
    <div
      ref={ref}
      style={{ position: "fixed", left: 0, top: 0, width: 740, height: 700, background: "#fff" }}
    />
  );
}
